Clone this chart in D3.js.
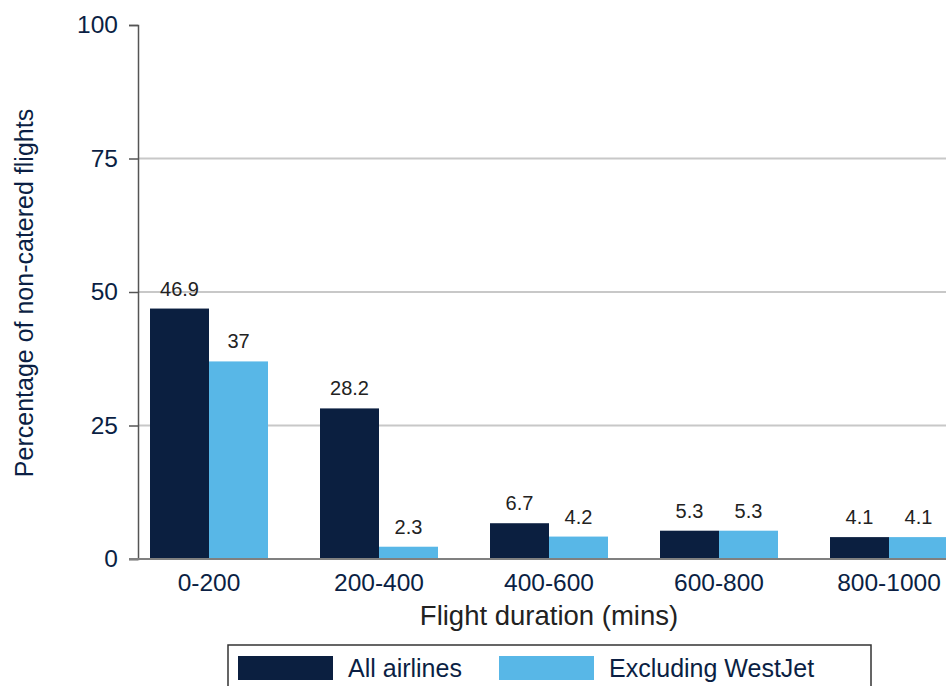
<!DOCTYPE html>
<html>
<head>
<meta charset="utf-8">
<script src="https://cdn.jsdelivr.net/npm/d3@7"></script>
<style>
  html, body { margin: 0; padding: 0; background: #fff; overflow: hidden; }
  svg { display: block; font-family: "Liberation Sans", Arial, Helvetica, sans-serif; }
</style>
</head>
<body>
<svg id="chart" width="946" height="686"></svg>
<script>
const categories = ["0-200", "200-400", "400-600", "600-800", "800-1000"];
const seriesNames = ["All airlines", "Excluding WestJet"];
const allAirlines = [46.9, 28.2, 6.7, 5.3, 4.1];
const excludingWestJet = [37, 2.3, 4.2, 5.3, 4.1];
const yTicks = [0, 25, 50, 75, 100];
const gridTicks = [25, 50, 75];
const colors = ["#0b1f40", "#58b7e7"];

const svg = d3.select("#chart");
const W = 946;
const navy = "#0b1f44";

const y = d3.scaleLinear().domain([0, 100]).range([559, 25]);
const x0 = d3.scaleBand().domain(categories).range([138, 960])
  .paddingInner(52 / 170).paddingOuter(12 / 170);
const x1 = d3.scaleBand().domain(seriesNames).range([0, x0.bandwidth()]);
const color = d3.scaleOrdinal().domain(seriesNames).range(colors);

const rows = categories.map((c, i) => ({
  cat: c,
  vals: [
    { s: seriesNames[0], v: allAirlines[i] },
    { s: seriesNames[1], v: excludingWestJet[i] }
  ]
}));

// gridlines
svg.append("g").selectAll("line").data(gridTicks).join("line")
  .attr("x1", 138).attr("x2", W)
  .attr("y1", d => y(d)).attr("y2", d => y(d))
  .attr("stroke", "#c8c8c8").attr("stroke-width", 2);

// y axis
const yAxis = d3.axisLeft(y).tickValues(yTicks).tickSize(9).tickPadding(11).tickFormat(d3.format("d"));
const gy = svg.append("g").attr("transform", "translate(138,0)").call(yAxis);
gy.select(".domain").attr("stroke", "#555").attr("stroke-width", 1.5);
gy.selectAll(".tick line").attr("stroke", "#555").attr("stroke-width", 1.5);
gy.selectAll(".tick text").attr("fill", navy).attr("font-size", "24.5px")
  .attr("font-family", "'Liberation Sans', Arial, sans-serif");

// bars
const groups = svg.append("g").selectAll("g").data(rows).join("g")
  .attr("transform", d => `translate(${x0(d.cat)},0)`);
groups.selectAll("rect").data(d => d.vals).join("rect")
  .attr("x", d => x1(d.s))
  .attr("width", x1.bandwidth())
  .attr("y", d => y(d.v))
  .attr("height", d => y(0) - y(d.v))
  .attr("fill", d => color(d.s));
groups.selectAll("text").data(d => d.vals).join("text")
  .attr("x", d => x1(d.s) + x1.bandwidth() / 2)
  .attr("y", d => y(d.v) - 13)
  .attr("text-anchor", "middle")
  .attr("font-size", "20px")
  .attr("fill", "#222")
  .text(d => d.v);

// x axis baseline
const xAxis = d3.axisBottom(x0).tickSize(0).tickPadding(15);
const gx = svg.append("g").attr("transform", `translate(0,${y(0)})`).call(xAxis);
gx.select(".domain").remove();
gx.selectAll(".tick text").attr("fill", navy).attr("font-size", "24.5px")
  .attr("font-family", "'Liberation Sans', Arial, sans-serif");
svg.append("line")
  .attr("x1", 129).attr("x2", W)
  .attr("y1", y(0)).attr("y2", y(0))
  .attr("stroke", "#808080").attr("stroke-width", 2);

// axis titles
svg.append("text")
  .attr("x", (x0.range()[0] + x0.range()[1]) / 2)
  .attr("y", 625)
  .attr("text-anchor", "middle")
  .attr("font-size", "27.5px")
  .attr("fill", "#222")
  .text("Flight duration (mins)");

svg.append("text")
  .attr("transform", "translate(33,293) rotate(-90)")
  .attr("text-anchor", "middle")
  .attr("font-size", "25px")
  .attr("fill", navy)
  .text("Percentage of non-catered flights");

// legend
const leg = svg.append("g");
leg.append("rect")
  .attr("x", 228).attr("y", 645).attr("width", 643).attr("height", 80)
  .attr("fill", "#fff").attr("stroke", "#333").attr("stroke-width", 1.5);
const legX = [238, 499];
seriesNames.forEach((s, i) => {
  leg.append("rect")
    .attr("x", legX[i]).attr("y", 656).attr("width", 95).attr("height", 24)
    .attr("fill", color(s));
  leg.append("text")
    .attr("x", legX[i] + 110).attr("y", 677)
    .attr("font-size", "25px")
    .attr("fill", navy)
    .text(s);
});
</script>
</body>
</html>
